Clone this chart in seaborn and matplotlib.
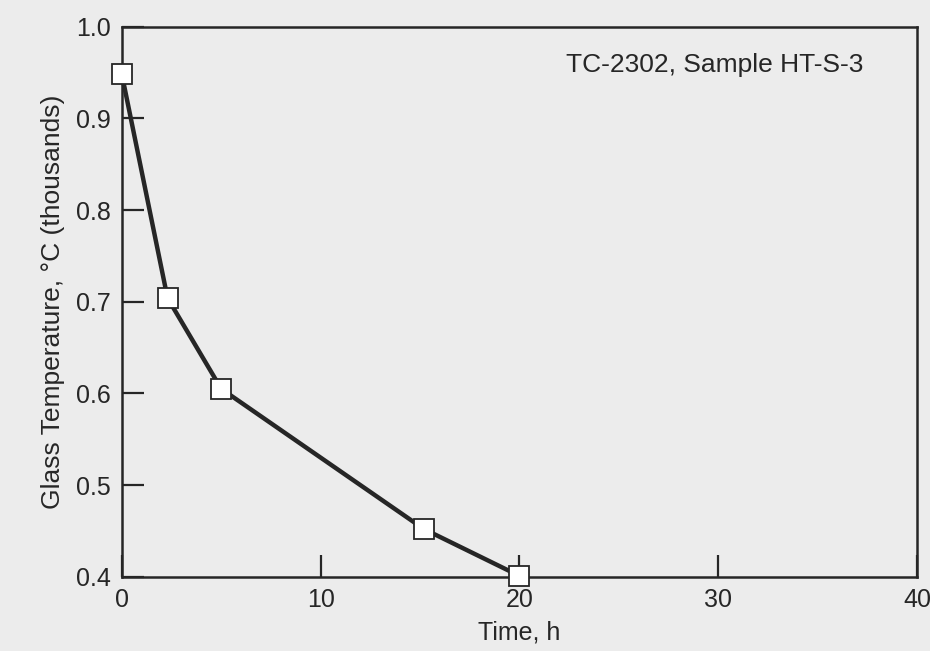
import pandas as pd
import seaborn as sns
import matplotlib.pyplot as plt

# Values
time_h = [0, 2.3, 5, 15.2, 20]
glass_temp = [0.948, 0.704, 0.605, 0.452, 0.401]
x_ticks = [0, 10, 20, 30, 40]
y_ticks = [0.4, 0.5, 0.6, 0.7, 0.8, 0.9, 1.0]
y_tick_labels = ["0.4", "0.5", "0.6", "0.7", "0.8", "0.9", "1.0"]

df = pd.DataFrame({"time": time_h, "temp": glass_temp})

sns.set_style("ticks")
plt.rcParams["font.family"] = ["Liberation Sans", "DejaVu Sans"]

paper = "#ececec"
ink = "#262626"

fig = plt.figure(figsize=(9.3, 6.51), dpi=100, facecolor=paper)
ax = fig.add_axes([0.131, 0.114, 0.855, 0.845], facecolor=paper)

sns.lineplot(data=df, x="time", y="temp", ax=ax, color=ink, linewidth=3.2,
             marker="s", markersize=14, markerfacecolor="white",
             markeredgecolor=ink, markeredgewidth=1.3, clip_on=False, zorder=3)

ax.set_xlim(0, 40)
ax.set_ylim(0.4, 1.0)
ax.set_xticks(x_ticks)
ax.set_yticks(y_ticks)
ax.set_yticklabels(y_tick_labels)

for side in ["left", "right", "top", "bottom"]:
    ax.spines[side].set_visible(True)
    ax.spines[side].set_color(ink)
    ax.spines[side].set_linewidth(1.8)

ax.tick_params(direction="in", length=16, width=1.6, color=ink,
               labelsize=18, labelcolor=ink, pad=8)
ax.tick_params(axis="x", pad=8)

ax.set_xlabel("Time, h", fontsize=18, color=ink, labelpad=6)
ax.set_ylabel("Glass Temperature, \u00b0C (thousands)", fontsize=19, color=ink, labelpad=8)

ax.text(0.746, 0.93, "TC-2302, Sample HT-S-3", transform=ax.transAxes,
        ha="center", va="center", fontsize=19, color=ink)

plt.savefig("out.png", dpi=100, facecolor=paper)
